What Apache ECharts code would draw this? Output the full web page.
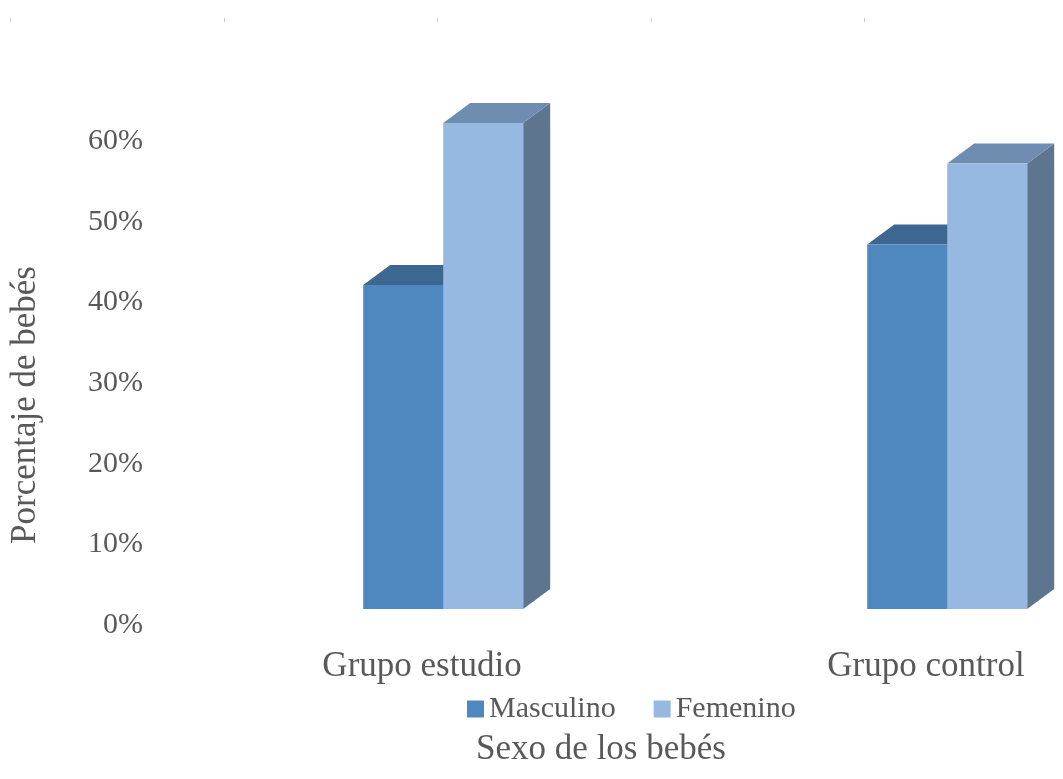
<!DOCTYPE html>
<html>
<head>
<meta charset="utf-8">
<title>Sexo de los bebés</title>
<script src="https://cdn.jsdelivr.net/npm/echarts@6/dist/echarts.min.js"></script>
<style>
  html, body { margin: 0; padding: 0; background: #ffffff; }
  #chart { width: 1063px; height: 779px; }
</style>
</head>
<body>
<div id="chart"></div>
<script>
// Chart data
const categories = ['Grupo estudio', 'Grupo control'];
const seriesNames = ['Masculino', 'Femenino'];
const masculino = [40, 45];
const femenino = [60, 55];
const yTicks = [0, 10, 20, 30, 40, 50, 60];

const FONT = '"Liberation Serif", "Times New Roman", serif';
const TEXT = '#595959';

// face colours: front, top, side
const palette = [
  { front: '#4F88BF', top: '#3C6790', side: '#3A5F82' },
  { front: '#97B8E0', top: '#6F8DB0', side: '#5E7590' }
];

const BAR_W = 80;   // width of one front face
const DX = 27;      // depth offset, horizontal
const DY = -20;     // depth offset, vertical

function renderBox(params, api) {
  const cat = api.value(0);
  const val = api.value(1);
  const base = api.coord([cat, 0]);
  const top = api.coord([cat, val]);
  const x0 = base[0] + (params.seriesIndex === 0 ? -BAR_W : 0);
  const x1 = x0 + BAR_W;
  const yb = base[1];
  const yt = top[1];
  const c = palette[params.seriesIndex];
  return {
    type: 'group',
    children: [
      {
        type: 'polygon',
        shape: { points: [[x1, yt], [x1 + DX, yt + DY], [x1 + DX, yb + DY], [x1, yb]] },
        style: { fill: c.side }
      },
      {
        type: 'polygon',
        shape: { points: [[x0, yt], [x1, yt], [x1 + DX, yt + DY], [x0 + DX, yt + DY]] },
        style: { fill: c.top }
      },
      {
        type: 'rect',
        shape: { x: x0, y: yt, width: BAR_W, height: yb - yt },
        style: { fill: c.front }
      }
    ]
  };
}

const hidden = {
  axisLine: { show: false },
  axisTick: { show: false },
  axisLabel: { show: false },
  splitLine: { show: false }
};

const chart = echarts.init(document.getElementById('chart'), null, { renderer: 'canvas' });

const option = {
  backgroundColor: '#ffffff',
  animation: false,
  grid: [
    // percentage scale on the back wall
    { left: 170, width: 100, top: 141, bottom: 154 },
    // group names under the floor
    { left: 422, width: 504, top: 141, bottom: 154 },
    // columns: one group step = 504 px
    { left: 292, width: 756, top: 123, bottom: 170 }
  ],
  xAxis: [
    Object.assign({ type: 'value', gridIndex: 0, min: 0, max: 1 }, hidden),
    {
      type: 'value',
      gridIndex: 1,
      min: 0,
      max: 1,
      interval: 1,
      axisLine: { show: false },
      axisTick: { show: false },
      splitLine: { show: false },
      axisLabel: {
        margin: 24,
        fontFamily: FONT,
        fontSize: 35,
        color: TEXT,
        formatter: v => categories[Math.round(v)] || ''
      }
    },
    Object.assign({ type: 'value', gridIndex: 2, min: -0.3, max: 1.2 }, hidden)
  ],
  yAxis: [
    {
      type: 'value',
      gridIndex: 0,
      min: yTicks[0],
      max: yTicks[yTicks.length - 1],
      interval: 10,
      axisLine: { show: false },
      axisTick: { show: false },
      splitLine: { show: false },
      axisLabel: {
        margin: 27,
        fontFamily: FONT,
        fontSize: 30,
        color: TEXT,
        formatter: v => v + '%'
      }
    },
    Object.assign({ type: 'value', gridIndex: 1, min: 0, max: 60 }, hidden),
    Object.assign({ type: 'value', gridIndex: 2, min: 0, max: 60 }, hidden)
  ],
  legend: {
    data: seriesNames,
    left: 462,
    top: 689,
    icon: 'rect',
    itemWidth: 17,
    itemHeight: 17,
    itemGap: 38,
    textStyle: { fontFamily: FONT, fontSize: 30, color: TEXT }
  },
  series: [
    {
      name: seriesNames[0],
      type: 'custom',
      xAxisIndex: 2,
      yAxisIndex: 2,
      renderItem: renderBox,
      itemStyle: { color: palette[0].front },
      encode: { x: 0, y: 1 },
      data: masculino.map((v, i) => [i, v])
    },
    {
      name: seriesNames[1],
      type: 'custom',
      xAxisIndex: 2,
      yAxisIndex: 2,
      renderItem: renderBox,
      itemStyle: { color: palette[1].front },
      encode: { x: 0, y: 1 },
      data: femenino.map((v, i) => [i, v])
    }
  ],
  graphic: [
    {
      type: 'text',
      x: 601,
      y: 750,
      style: {
        text: 'Sexo de los bebés',
        fontFamily: FONT,
        fontSize: 35,
        fill: TEXT,
        align: 'center',
        verticalAlign: 'middle'
      }
    },
    {
      type: 'text',
      x: 26,
      y: 405,
      rotation: Math.PI / 2,
      style: {
        text: 'Porcentaje de bebés',
        fontFamily: FONT,
        fontSize: 35,
        fill: TEXT,
        align: 'center',
        verticalAlign: 'middle'
      }
    },
    // faint marks along the top edge
    ...[10, 224, 437, 651, 864].map(x => ({
      type: 'line',
      shape: { x1: x + 0.5, y1: 18, x2: x + 0.5, y2: 22 },
      style: { stroke: '#d0d0d0', lineWidth: 1 }
    }))
  ]
};

chart.setOption(option);
</script>
</body>
</html>
